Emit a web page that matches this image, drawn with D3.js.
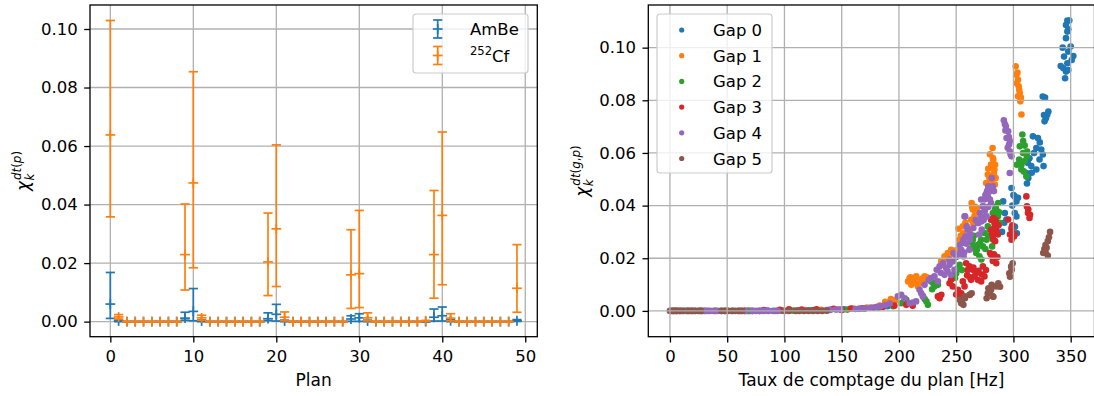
<!DOCTYPE html>
<html><head><meta charset="utf-8">
<script src="https://cdn.jsdelivr.net/npm/d3@7"></script>
<style>body{margin:0;background:#fff}svg{display:block;font-family:"DejaVu Sans",sans-serif}</style>
</head><body><svg id="c" width="1094" height="396"></svg>
<script>
// ---------- Left panel data ----------
const plans = [0,1,2,3,4,5,6,7,8,9,10,11,12,13,14,15,16,17,18,19,20,21,22,23,24,25,26,27,28,29,30,31,32,33,34,35,36,37,38,39,40,41,42,43,44,45,46,47,48,49];
const ambeVal = [0.0060,0.0002,0,0,0,0,0,0,0,0.0012,0.0035,0.0002,0,0,0,0,0,0,0,0.0010,0.0025,0.0002,0,0,0,0,0,0,0,0.0009,0.0013,0.0002,0,0,0,0,0,0,0,0.0015,0.0020,0.0003,0,0,0,0,0,0,0,0.0003];
const ambeLo  = [0.0011,0,0,0,0,0,0,0,0,0.0005,0.0003,0,0,0,0,0,0,0,0,0.0004,0.0002,0,0,0,0,0,0,0,0,0.0001,0.0001,0,0,0,0,0,0,0,0,0.0002,0.0002,0,0,0,0,0,0,0,0,0.0001];
const ambeHi  = [0.0168,0.0006,0,0,0,0,0,0,0,0.0032,0.0113,0.0006,0,0,0,0,0,0,0,0.0030,0.0059,0.0005,0,0,0,0,0,0,0,0.0020,0.0027,0.0005,0,0,0,0,0,0,0,0.0043,0.0050,0.0006,0,0,0,0,0,0,0,0.0007];
const cfVal = [0.0638,0.0016,0,0,0,0,0,0,0,0.0229,0.0474,0.0013,0,0,0,0,0,0,0,0.0204,0.0317,0.0015,0,0,0,0,0,0,0,0.0160,0.0164,0.0013,0,0,0,0,0,0,0.0003,0.0229,0.0363,0.0012,0,0,0,0,0,0,0,0.0114];
const cfLo  = [0.0358,0.0009,0,0,0,0,0,0,0,0.0108,0.0184,0.0005,0,0,0,0,0,0,0,0.0089,0.0120,0.0003,0,0,0,0,0,0,0,0.0045,0.0048,0.0003,0,0,0,0,0,0,0.0002,0.0080,0.0126,0.0003,0,0,0,0,0,0,0,0.0032];
const cfHi  = [0.1029,0.0024,0,0,0,0,0,0,0,0.0402,0.0854,0.0022,0,0,0,0,0,0,0,0.0371,0.0604,0.0033,0,0,0,0,0,0,0,0.0314,0.0380,0.0030,0,0,0,0,0,0,0.0004,0.0448,0.0648,0.0027,0,0,0,0,0,0,0,0.0263];
const leftXTicks = [0,10,20,30,40,50];
const leftYTicks = [0,0.02,0.04,0.06,0.08,0.10];

// ---------- Right panel data (rate [Hz], chi) ----------
const gapNames = ["Gap 0","Gap 1","Gap 2","Gap 3","Gap 4","Gap 5"];
const gap0 = [[2,0],[5,0],[12,0],[20,0],[33,0],[40,0],[55,0],[68,0],[72,0],[85,0.0001],[98,0.0001],[112,0.0002],[125,0.0003],[140,0.0004],[152,0.0006],[165,0.0008],[178,0.0012],[190,0.0018],
[291,0.0416],[292.5,0.0372],[293.9,0.0347],[290,0.030],[292,0.0335],[298.3,0.0467],[300,0.044],[301.2,0.0435],[302.6,0.0416],[301.2,0.0372],[302.6,0.0359],[299,0.040],[304,0.043],[298.5,0.0308],[301.4,0.032],[303,0.0295],
[311.8,0.0484],[311.3,0.0524],[312.7,0.0562],[315.6,0.055],[317,0.0663],[321.4,0.0657],[320,0.0619],[324.3,0.0613],[325.7,0.0594],[322.8,0.0575],[320,0.0537],[326.3,0.055],[318,0.060],[323,0.064],[314,0.058],[316,0.0525],[313,0.0505],
[325.6,0.0814],[327.6,0.081],[326.7,0.0744],[330.5,0.0757],[328.4,0.0732],[327.2,0.072],[329.5,0.0745],
[347.1,0.1103],[348.8,0.1103],[345.9,0.1086],[347.9,0.107],[347.1,0.1061],[345.9,0.1036],[343,0.100],[350,0.1004],[347.9,0.0985],[344.2,0.0966],[352.3,0.0968],[350.9,0.0953],[347.1,0.0941],[341.3,0.093],[343.6,0.0922],[345.9,0.0909],[347.9,0.0915],[345.1,0.0884]];
const gap1 = [[3,0],[9,0],[16,0],[25,0],[38,0],[50,0],[66,0],[70,0],[80,0],[95,0.0001],[105,0.0002],[118,0.0003],[132,0.0004],[147,0.0006],[160,0.0009],[172,0.0013],[183,0.002],[188,0.0035],[193,0.0045],[197,0.004],
[209.3,0.0124],[212.2,0.0118],[215.1,0.0131],[218,0.0105],[222.4,0.0131],[223.8,0.0118],[210.8,0.0099],[216.6,0.0093],[213,0.0108],[220,0.0122],[208,0.0112],[224.5,0.0128],[210,0.0128],[214,0.0125],[219,0.0112],[226,0.0118],
[236.9,0.0188],[239.8,0.0207],[242.7,0.022],[245.6,0.0232],[238.4,0.0175],[241,0.0195],[244,0.0212],[247,0.0222],[248,0.0215],[250,0.023],
[252,0.0312],[252.9,0.027],[255.8,0.0321],[263,0.0346],[264.5,0.0385],[266,0.036],[261.6,0.0308],[263.5,0.041],[265,0.033],[262,0.0295],[254,0.0285],[267,0.0375],[264,0.0395],[256,0.0295],[258,0.0335],[266.5,0.0395],[265.5,0.0345],[268,0.039],
[282,0.0581],[280.5,0.0556],[283.4,0.0537],[277.6,0.0518],[280.5,0.0492],[282,0.048],[276.2,0.0486],[281.8,0.0619],[282.4,0.0575],[281,0.055],[283,0.0524],[281,0.0499],[283.8,0.048],[279,0.0505],[284,0.0555],[278,0.054],[279.5,0.0595],[284.5,0.0505],
[302,0.0929],[302.6,0.0897],[304,0.0878],[304.6,0.0853],[305.5,0.0828],[304,0.0815],[306,0.0796],[307,0.0746],[303,0.0865],[305,0.084],[303.5,0.0905],[306.5,0.081]];
const gap2 = [[4,0],[14,0],[28,0],[45,0],[60,0],[69,0],[78,0],[92,0],[108,0.0001],[122,0.0002],[138,0.0003],[155,0.0005],[170,0.0008],[182,0.0012],[195,0.0018],
[202,0.0029],[206.4,0.0042],[204,0.0035],[221,0.0055],[224,0.0036],[225.3,0.0023],[222.5,0.0045],[228.2,0.0112],[231,0.0093],[234,0.0099],[230,0.0105],[229,0.0082],[232.5,0.0108],[250,0.0143],[251.5,0.0162],[249,0.0125],[253,0.0175],[255,0.0155],
[264.5,0.027],[266,0.0245],[267.4,0.022],[271.8,0.027],[273.3,0.0245],[274.7,0.0296],[270.3,0.0207],[281.4,0.0245],[268,0.0232],[272,0.0195],[264,0.0258],[262,0.0235],[265.5,0.0285],[269,0.025],[275.5,0.0235],[278,0.0285],
[277.6,0.0321],[280.5,0.0346],[282,0.0372],[285,0.0385],[286.4,0.036],[283.4,0.0315],[286.7,0.041],[283.8,0.0384],[282.4,0.0346],[279.5,0.0308],[276.6,0.027],[270.8,0.0257],[266.5,0.0238],[288,0.0335],[284.5,0.0395],[287.5,0.0375],
[307.8,0.067],[305.5,0.0625],[309.8,0.0628],[308.4,0.06],[304.9,0.0575],[311.8,0.0587],[306.9,0.0537],[311.3,0.0511],[303,0.0555],[310,0.057],[307,0.0555],[309,0.053],[308.5,0.0645],[312,0.0605]];
const gap3 = [[6,0],[18,0],[30,0],[48,0],[62,0],[65,0],[82,0.0003],[96,0.0004],[104,0.0006],[115,0.0005],[128,0.0006],[143,0.0008],[150,0.0003],[158,0.0009],[168,0.001],[176,0.0012],[186,0.0015],[196,0.002],[206.4,0.0023],[212,0.002],
[234,0.0055],[237,0.0061],[235.5,0.0048],[244.2,0.0105],[245.6,0.0118],[247,0.0093],[251.5,0.008],[254.4,0.0067],[253,0.0055],[257.3,0.0093],[255.8,0.0112],[250,0.0062],
[258.7,0.0181],[261.6,0.0169],[264.5,0.0156],[266,0.0131],[268.9,0.0118],[263,0.0118],[267.4,0.0143],[273.3,0.0169],[274.7,0.0131],[271.8,0.0112],[260,0.0155],[262,0.0128],[265,0.0165],[269.5,0.0152],[272.5,0.0138],[276,0.0155],[259.5,0.0135],
[280.5,0.0213],[283.4,0.02],[285,0.0181],[282,0.019],[283,0.0215],[286,0.0205],
[280.5,0.0346],[283.4,0.0334],[285,0.0308],[282,0.0283],[286.4,0.029],[280.5,0.0308],[282.4,0.0353],[283.8,0.0321],[285.3,0.0296],[282.4,0.027],[279.5,0.022],[284,0.0265],[284.5,0.0345],[287,0.0325],[281.5,0.0295],
[295.4,0.0347],[298.3,0.0315],[299.7,0.0296],[298.3,0.027],[297,0.029],[300.5,0.0283],[299,0.0325],[301,0.029],
[311.3,0.0435],[311.8,0.0397],[312.7,0.0372],[314,0.0353],[313,0.0385],[314.5,0.0365]];
const gap4 = [[1,0],[8,0],[15,0],[22,0],[27,0],[31,0],[35,0],[39,0],[42,0],[66,0],[72,0],[75,0],[78,0],[82,0],[86,0],[90,0],[94,0],[112,0.0001],[120,0.0002],[137,0.0003],[140,0.0004],[145,0.0005],[149,0.0005],[162,0.0007],[166,0.0008],[170,0.001],[175,0.0012],[180,0.0015],[184,0.0018],[188,0.0022],[192,0.0028],
[199,0.0055],[202,0.0061],[205,0.0048],[209.3,0.0029],[215,0.0036],[221,0.0055],[218,0.008],[222.4,0.0099],[219.5,0.0067],[212,0.0032],[228,0.0125],[226,0.0118],
[231,0.0131],[233,0.0156],[235.5,0.0169],[238.4,0.0181],[241.3,0.0162],[244.2,0.0175],[247,0.0188],[248.5,0.0156],[234,0.0112],[239.8,0.0137],[245.6,0.0137],[236.5,0.0145],[242.5,0.015],[244,0.0195],
[254.4,0.0232],[255.8,0.0258],[258.1,0.0283],[260,0.0308],[256.4,0.0207],[261.6,0.0232],[257.3,0.0359],[259,0.0255],[257,0.0222],[247.7,0.022],[256.4,0.0271],[259.2,0.0321],[257.8,0.0359],[250,0.0205],[252,0.0215],[253,0.025],[262.5,0.029],[265,0.0315],[267,0.0345],[262,0.027],
[268.9,0.0334],[271.8,0.0359],[273.2,0.0397],[274.7,0.0423],[277.6,0.0435],[279,0.0454],[282,0.0473],[271.8,0.0423],[280.5,0.041],[281,0.0505],[278,0.0473],[276.6,0.0448],[279.5,0.0423],[273.7,0.0397],[270.8,0.0372],[276.6,0.0359],[269.4,0.0334],[272.3,0.0309],[275,0.038],[278,0.0395],[270,0.029],[275.5,0.044],[277,0.0455],[280,0.0465],[283,0.0455],[274,0.0345],[272,0.034],
[291.6,0.0724],[293.4,0.0701],[295.4,0.0682],[294,0.0657],[296.2,0.0632],[296.8,0.0606],[298.3,0.0587],[296.8,0.0524],[292.5,0.071],[297,0.0645],[295,0.062],[297.5,0.0595],[293,0.0685],[296,0.066]];
const gap5 = [[0,0],[3,0],[6,0],[9,0],[11,0],[16,0],[19,0],[22,0],[25,0],[27,0],[45,0],[48,0],[51,0],[54,0],[57,0],[60,0],[63,0],[100,0],[104,0],[110,0],[113,0],[117,0],[121,0],[125,0],[129,0],[133,0],[137,0.0001],
[253,0.0042],[257.3,0.0055],[261.6,0.0061],[254.4,0.0029],[254.8,0.0035],[257.7,0.0048],[262.1,0.0061],[263.5,0.0067],[256.3,0.0023],
[277.6,0.0067],[280.5,0.008],[285,0.0093],[282,0.0055],[278.1,0.0086],[281,0.0099],[286.8,0.0105],[288.3,0.0092],[279.5,0.0067],[282.5,0.0054],[276.6,0.0048],
[297,0.013],[298.5,0.0156],[299.3,0.0181],[296.4,0.0143],[298,0.0168],
[326,0.022],[327,0.0235],[328,0.025],[330,0.0265],[331,0.028],[332,0.030],[329,0.024],[330,0.021],[328,0.0225]];
const gaps = [gap0,gap1,gap2,gap3,gap4,gap5];
const rightXTicks = [0,50,100,150,200,250,300,350];
const rightYTicks = [0,0.02,0.04,0.06,0.08,0.10];
const colors = ["#1f77b4","#ff7f0e","#2ca02c","#d62728","#9467bd","#8c564b"];

// ---------- drawing ----------
const svg = d3.select("#c");
const FS = 16.5, LFS = 17, TICK = 5.8;
const fmt2 = d3.format(".2f");

function grid(g, x, y, xt, yt) {
  const gg = g.append("g").attr("stroke","#b0b0b0").attr("stroke-width",1.3);
  gg.selectAll("line.vx").data(xt).join("line").attr("x1",d=>x(d)).attr("x2",d=>x(d)).attr("y1",y.range()[0]).attr("y2",y.range()[1]);
  gg.selectAll("line.hy").data(yt).join("line").attr("y1",d=>y(d)).attr("y2",d=>y(d)).attr("x1",x.range()[0]).attr("x2",x.range()[1]);
}
function axes(g, x, y, xt, yt) {
  const ax = g.append("g").attr("transform",`translate(0,${y.range()[0]})`)
    .call(d3.axisBottom(x).tickValues(xt).tickSize(TICK).tickPadding(7.5).tickSizeOuter(0));
  const ay = g.append("g").attr("transform",`translate(${x.range()[0]},0)`)
    .call(d3.axisLeft(y).tickValues(yt).tickFormat(fmt2).tickSize(TICK).tickPadding(6.5).tickSizeOuter(0));
  [ax,ay].forEach(a=>{a.select(".domain").remove();a.selectAll("text").attr("font-size",FS).attr("font-family","DejaVu Sans").attr("fill","#000");a.selectAll("line").attr("stroke","#000").attr("stroke-width",1.3);});
  g.append("rect").attr("x",x.range()[0]).attr("y",y.range()[1]).attr("width",x.range()[1]-x.range()[0]).attr("height",y.range()[0]-y.range()[1])
    .attr("fill","none").attr("stroke","#000").attr("stroke-width",1.3);
}
function ylabel(g, cx, cy, supParts) {
  const lg = g.append("g").attr("transform",`translate(${cx},${cy}) rotate(-90)`);
  const inner = lg.append("g");
  const t1 = inner.append("text").attr("font-size",LFS).attr("font-style","italic").attr("x",0).attr("y",0).text("χ");
  const w1 = t1.node().getComputedTextLength();
  const t2 = inner.append("text").attr("font-size",LFS*0.7).attr("font-style","italic").attr("x",w1+0.5).attr("y",4.5).text("k");
  const t3 = inner.append("text").attr("font-size",LFS*0.7).attr("x",w1+1).attr("y",-8.5);
  supParts.forEach(p=>t3.append("tspan").attr("font-style",p[1]?"italic":"normal").text(p[0]));
  const w = w1 + Math.max(t2.node().getComputedTextLength(), t3.node().getComputedTextLength()+1);
  inner.attr("transform",`translate(${-w/2},0)`);
}

// ----- Left panel -----
const xL = d3.scaleLinear().domain([-2.45,51.45]).range([90,537.3]);
const yL = d3.scaleLinear().domain([-0.00515,0.1082]).range([336.7,5]);
const gL = svg.append("g");
grid(gL,xL,yL,leftXTicks,leftYTicks);
function errSeries(g, vals, lo, hi, color) {
  const s = g.append("g").attr("stroke",color).attr("stroke-width",1.7).attr("fill","none");
  const idx = plans.map((p,i)=>i);
  s.selectAll("line.eb").data(idx).join("line").attr("x1",i=>xL(plans[i])).attr("x2",i=>xL(plans[i])).attr("y1",i=>yL(lo[i])).attr("y2",i=>yL(hi[i]));
  s.selectAll("line.cl").data(idx).join("line").attr("x1",i=>xL(plans[i])-4.6).attr("x2",i=>xL(plans[i])+4.6).attr("y1",i=>yL(lo[i])).attr("y2",i=>yL(lo[i]));
  s.selectAll("line.ch").data(idx).join("line").attr("x1",i=>xL(plans[i])-4.6).attr("x2",i=>xL(plans[i])+4.6).attr("y1",i=>yL(hi[i])).attr("y2",i=>yL(hi[i]));
  s.selectAll("line.mh").data(idx).join("line").attr("x1",i=>xL(plans[i])-4.9).attr("x2",i=>xL(plans[i])+4.9).attr("y1",i=>yL(vals[i])).attr("y2",i=>yL(vals[i]));
  s.selectAll("line.mv").data(idx).join("line").attr("x1",i=>xL(plans[i])).attr("x2",i=>xL(plans[i])).attr("y1",i=>yL(vals[i])-4.9).attr("y2",i=>yL(vals[i])+4.9);
}
errSeries(gL, ambeVal, ambeLo, ambeHi, colors[0]);
errSeries(gL, cfVal, cfLo, cfHi, colors[1]);
axes(gL,xL,yL,leftXTicks,leftYTicks);
gL.append("text").attr("x",(90+537.3)/2).attr("y",386).attr("text-anchor","middle").attr("font-size",LFS).text("Plan");
ylabel(gL, 29, 171, [["dt",1],["(",0],["p",1],[")",0]]);
// legend left
const lgL = gL.append("g");
lgL.append("rect").attr("x",413).attr("y",14).attr("width",115).attr("height",59).attr("rx",3).attr("fill","#fff").attr("fill-opacity",0.8).attr("stroke","#cccccc").attr("stroke-width",1.2);
[[colors[0],29],[colors[1],55.5]].forEach(([c,cy])=>{
  const e = lgL.append("g").attr("stroke",c).attr("stroke-width",1.7);
  e.append("line").attr("x1",437.7).attr("x2",437.7).attr("y1",cy-9).attr("y2",cy+9);
  e.append("line").attr("x1",433.1).attr("x2",442.3).attr("y1",cy-9).attr("y2",cy-9);
  e.append("line").attr("x1",433.1).attr("x2",442.3).attr("y1",cy+9).attr("y2",cy+9);
  e.append("line").attr("x1",432.8).attr("x2",442.6).attr("y1",cy).attr("y2",cy);
  e.append("line").attr("x1",437.7).attr("x2",437.7).attr("y1",cy-4.9).attr("y2",cy+4.9);
});
lgL.append("text").attr("x",470).attr("y",35).attr("font-size",FS).text("AmBe");
const cfT = lgL.append("text").attr("x",470).attr("y",61.5).attr("font-size",FS);
cfT.append("tspan").attr("font-size",FS*0.7).attr("dy",-7).text("252");
cfT.append("tspan").attr("dy",7).text("Cf");

// ----- Right panel -----
const xR = d3.scaleLinear().domain([-18.9,370.8]).range([648.3,1094.5]);
const yR = d3.scaleLinear().domain([-0.0098,0.1162]).range([336.7,5]);
const gR = svg.append("g");
svg.append("defs").append("clipPath").attr("id","cr").append("rect").attr("x",648.3).attr("y",5).attr("width",446.2).attr("height",331.7);
const pts = gR.append("g").attr("clip-path","url(#cr)");
gaps.forEach((arr,gi)=>{
  pts.append("g").attr("fill",colors[gi]).selectAll("circle").data(arr).join("circle")
    .attr("cx",d=>xR(d[0])).attr("cy",d=>yR(d[1])).attr("r",3.3);
});
grid(gR,xR,yR,rightXTicks,rightYTicks);
axes(gR,xR,yR,rightXTicks,rightYTicks);
gR.append("text").attr("x",871.5).attr("y",386).attr("text-anchor","middle").attr("font-size",LFS).text("Taux de comptage du plan [Hz]");
ylabel(gR, 588, 171, [["dt",1],["(",0],["g",1],[",",0],["p",1],[")",0]]);
const lgR = gR.append("g");
lgR.append("rect").attr("x",657).attr("y",14).attr("width",115).attr("height",159).attr("rx",3).attr("fill","#fff").attr("fill-opacity",0.8).attr("stroke","#cccccc").attr("stroke-width",1.2);
gapNames.forEach((n,i)=>{
  const cy = 30 + i*25.7;
  lgR.append("circle").attr("cx",681.7).attr("cy",cy).attr("r",2.6).attr("fill",colors[i]);
  lgR.append("text").attr("x",713).attr("y",cy+6).attr("font-size",FS).text(n);
});
</script></body></html>
